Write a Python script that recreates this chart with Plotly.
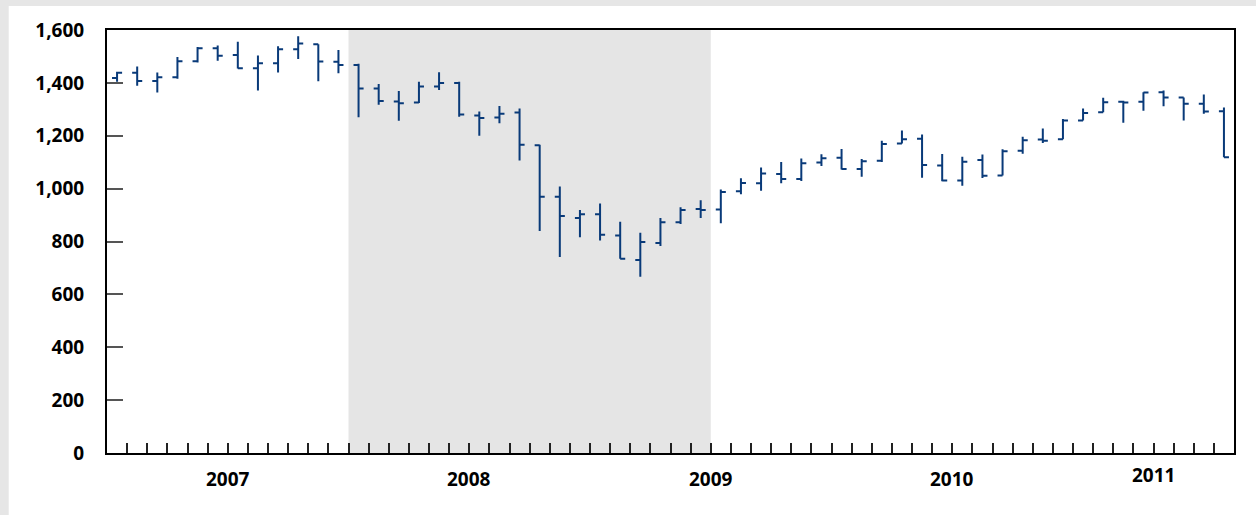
import plotly.graph_objects as go

months = [f"{y}-{m:02d}" for y in range(2007, 2012) for m in range(1, 13)][:56]

opens = [1418, 1438, 1407, 1421, 1482, 1531, 1505, 1455, 1474, 1527, 1546, 1480,
         1468, 1379, 1330, 1326, 1386, 1400, 1277, 1269, 1288, 1164, 969, 889,
         903, 823, 730, 794, 873, 923, 921, 990, 1020, 1055, 1036, 1099,
         1117, 1074, 1105, 1171, 1189, 1087, 1031, 1108, 1050, 1143, 1186, 1187,
         1258, 1289, 1329, 1329, 1365, 1345, 1321, 1293]
highs = [1442, 1462, 1439, 1498, 1536, 1541, 1556, 1504, 1539, 1576, 1546, 1524,
         1472, 1396, 1369, 1404, 1440, 1404, 1292, 1313, 1303, 1166, 1008, 919,
         944, 875, 833, 889, 930, 956, 997, 1039, 1080, 1101, 1114, 1130,
         1150, 1112, 1181, 1220, 1205, 1131, 1121, 1129, 1149, 1196, 1227, 1263,
         1303, 1344, 1332, 1365, 1371, 1345, 1356, 1307]
lows = [1404, 1389, 1364, 1416, 1477, 1484, 1454, 1371, 1439, 1490, 1406, 1436,
        1270, 1317, 1257, 1324, 1373, 1272, 1200, 1247, 1106, 840, 741, 816,
        804, 735, 667, 783, 866, 889, 869, 979, 992, 1020, 1029, 1086,
        1072, 1045, 1101, 1171, 1041, 1028, 1011, 1040, 1050, 1132, 1173, 1187,
        1258, 1289, 1249, 1295, 1312, 1258, 1283, 1119]
closes = [1438, 1407, 1421, 1482, 1531, 1503, 1455, 1474, 1527, 1549, 1481, 1468,
          1379, 1331, 1323, 1386, 1400, 1280, 1267, 1283, 1166, 969, 896, 903,
          826, 735, 798, 873, 919, 919, 987, 1021, 1057, 1036, 1096, 1115,
          1074, 1104, 1169, 1187, 1089, 1031, 1102, 1049, 1141, 1183, 1181, 1258,
          1286, 1327, 1326, 1364, 1345, 1321, 1292, 1119]

year_labels = ["2007", "2008", "2009", "2010", "2011"]
y_ticks = [0, 200, 400, 600, 800, 1000, 1200, 1400, 1600]
recession = ("2008-01", "2009-06")

x = list(range(len(months)))
BLUE = "#093a79"
FONT = "Noto Sans"

fig = go.Figure()
fig.add_trace(go.Ohlc(
    x=x, open=opens, high=highs, low=lows, close=closes,
    increasing=dict(line=dict(color=BLUE, width=2)),
    decreasing=dict(line=dict(color=BLUE, width=2)),
    tickwidth=0.25, hoverinfo="skip", showlegend=False,
))

# white panel on gray page (drawn first)
fig.add_shape(type="rect", xref="paper", yref="paper", x0=-0.0872, x1=1.1,
              y0=-0.3, y1=1.0567, fillcolor="white", line=dict(width=0), layer="below")

# recession shading
r0 = months.index(recession[0]) - 0.5
r1 = months.index(recession[1]) + 0.5
fig.add_shape(type="rect", xref="x", yref="paper", x0=r0, x1=r1, y0=0, y1=1,
              fillcolor="#e5e5e5", line=dict(width=0), layer="below")

# year labels centred in each year's span
year_starts = [months.index(f"{y}-01") for y in year_labels]
for i, yl in enumerate(year_labels):
    s = year_starts[i] - 0.5
    e = (year_starts[i + 1] - 0.5) if i + 1 < len(year_starts) else len(months) - 0.5
    fig.add_annotation(x=(s + e) / 2, y=(-0.052 if yl == "2011" else -0.0615),
                       xref="x", yref="paper", text=yl, showarrow=False,
                       xanchor="center", yanchor="middle",
                       font=dict(family=FONT, size=19, color="black", weight="bold"))

year_bounds = [s - 0.5 for s in year_starts[1:]]

fig.update_layout(
    width=1256, height=515,
    margin=dict(l=107, r=22, t=30, b=62),
    paper_bgcolor="#e6e6e6", plot_bgcolor="rgba(0,0,0,0)",
    showlegend=False,
    xaxis=dict(
        range=[-0.5, len(months) - 0.5], showgrid=False, zeroline=False,
        rangeslider=dict(visible=False),
        showline=True, linecolor="black", linewidth=2, mirror=True,
        tickmode="array", tickvals=year_bounds, ticktext=[""] * len(year_bounds),
        ticks="inside", ticklen=19, tickwidth=2.5, tickcolor="black",
        showticklabels=False,
        minor=dict(tick0=-0.5, dtick=1, ticks="inside", ticklen=10,
                   tickwidth=1.5, tickcolor="#222"),
    ),
    yaxis=dict(
        range=[0, 1600], showgrid=False, zeroline=False,
        showline=True, linecolor="black", linewidth=2, mirror=True,
        tickmode="array", tickvals=y_ticks,
        ticktext=[f"{v:,}" for v in y_ticks],
        ticks="inside", ticklen=16, tickwidth=2, tickcolor="#555",
        ticklabelstandoff=17,
        tickfont=dict(family=FONT, size=19, color="black", weight="bold"),
    ),
)

fig.write_html("out.html", config={"displayModeBar": False},
               post_script="document.body.style.margin='0';document.body.style.overflow='hidden';")
